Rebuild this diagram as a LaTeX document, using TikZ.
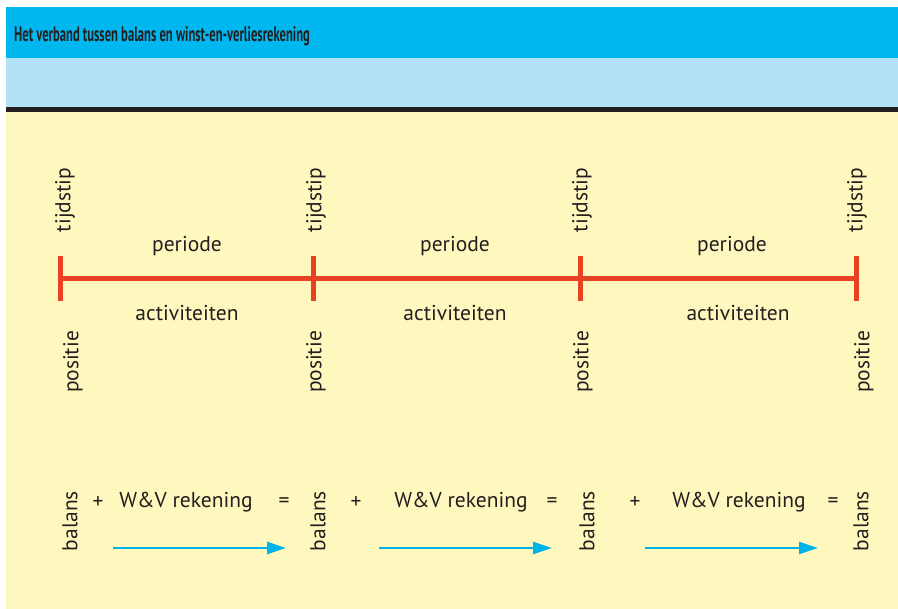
\documentclass[tikz,border=0pt]{standalone}
\usepackage{fontspec}
\setmainfont{PT Sans}
\usetikzlibrary{arrows.meta}
\definecolor{bandblue}{RGB}{0,184,239}
\definecolor{lightband}{RGB}{179,226,248}
\definecolor{darkline}{RGB}{35,31,32}
\definecolor{paper}{RGB}{255,248,190}
\definecolor{redline}{RGB}{232,65,36}
\definecolor{arrowcyan}{RGB}{0,180,234}
\definecolor{ink}{RGB}{35,31,32}
\tikzset{
  lbl/.style={font=\fontsize{21.5}{24}\selectfont, text=ink, inner sep=0pt},
  vlbl/.style={lbl, rotate=90},
  timeline/.style={draw=redline, line width=5pt, line cap=butt},
  flow/.style={draw=arrowcyan, line width=2.5pt, -{Triangle[length=19pt,width=12pt]}},
}
\begin{document}
\begin{tikzpicture}[x=1pt,y=-1pt]
\useasboundingbox (0,0) rectangle (898,609);
\fill[white] (0,0) rectangle (898,609);
\fill[bandblue] (6,7) rectangle (898,58);
\fill[lightband] (6,58) rectangle (898,107);
\fill[darkline] (6,107) rectangle (898,112);
\fill[paper] (6,112) rectangle (898,609);
\node[anchor=base west, inner sep=0pt, text=ink, font=\fontsize{21}{24}\selectfont\bfseries] (title) at (14,42) {\scalebox{0.60}[1]{Het verband tussen balans en winst-en-verliesrekening}};

% timeline
\coordinate (t1) at (60,279);
\coordinate (t2) at (313,279);
\coordinate (t3) at (580,279);
\coordinate (t4) at (856,279);
\draw[timeline] (t1) -- (t4);
\foreach \t in {t1,t2,t3,t4}{
  \draw[timeline] ([yshift=-22pt]\t) -- ([yshift=23pt]\t);
}

\node[vlbl] (tijd1) at (65,200) {tijdstip};
\node[vlbl] (tijd2) at (316,200) {tijdstip};
\node[vlbl] (tijd3) at (582,200) {tijdstip};
\node[vlbl] (tijd4) at (857,200) {tijdstip};
\node[vlbl] (pos1) at (73,362) {positie};
\node[vlbl] (pos2) at (316,362) {positie};
\node[vlbl] (pos3) at (583,362) {positie};
\node[vlbl] (pos4) at (864,362) {positie};

\node[lbl, anchor=base] (per1) at (187,252) {periode};
\node[lbl, anchor=base] (per2) at (455,252) {periode};
\node[lbl, anchor=base] (per3) at (732,252) {periode};
\node[lbl, anchor=base] (act1) at (187,321) {activiteiten};
\node[lbl, anchor=base] (act2) at (455,321) {activiteiten};
\node[lbl, anchor=base] (act3) at (738,321) {activiteiten};

% equation row
\node[vlbl] (bal1) at (70,521) {balans};
\node[vlbl] (bal2) at (318,521) {balans};
\node[vlbl] (bal3) at (587,521) {balans};
\node[vlbl] (bal4) at (861,521) {balans};
\node[lbl] (plus1) at (98,503) {+};
\node[lbl] (plus2) at (356,503) {+};
\node[lbl] (plus3) at (635,503) {+};
\node[lbl] (eq1) at (284,503) {=};
\node[lbl] (eq2) at (552,503) {=};
\node[lbl] (eq3) at (833,503) {=};
\node[lbl, anchor=base] (wv1) at (186,508) {W\&V rekening};
\node[lbl, anchor=base] (wv2) at (461,508) {W\&V rekening};
\node[lbl, anchor=base] (wv3) at (739,508) {W\&V rekening};

\coordinate (a1s) at (113,548); \coordinate (a1e) at (286,548);
\coordinate (a2s) at (379,548); \coordinate (a2e) at (552,548);
\coordinate (a3s) at (645,548); \coordinate (a3e) at (818,548);
\draw[flow] (a1s) -- (a1e);
\draw[flow] (a2s) -- (a2e);
\draw[flow] (a3s) -- (a3e);
\end{tikzpicture}
\end{document}
